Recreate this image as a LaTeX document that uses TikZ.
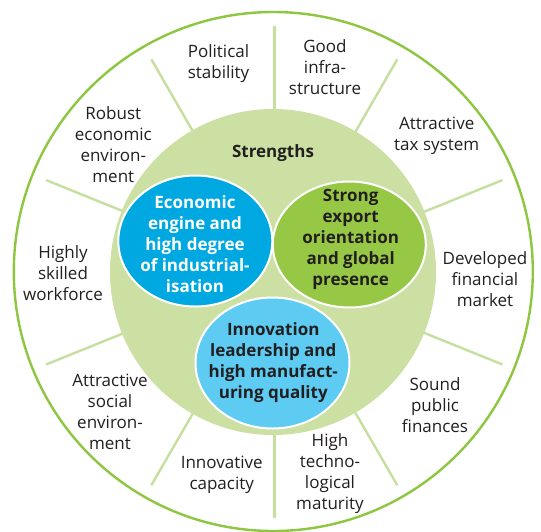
\documentclass[tikz,border=0pt]{standalone}
\usepackage{fontspec}
\setmainfont{Open Sans}
\usetikzlibrary{shapes.geometric}
\definecolor{ringgreen}{HTML}{8DC63F}
\definecolor{spokegreen}{HTML}{C6DF9F}
\definecolor{discgreen}{HTML}{CCE0A4}
\definecolor{engineblue}{HTML}{00A8E1}
\definecolor{exportgreen}{HTML}{96C846}
\definecolor{innovblue}{HTML}{5DCBF2}
\definecolor{inkdark}{HTML}{231F20}
\begin{document}
\begin{tikzpicture}[x=1pt,y=-1pt,
  factor/.style={font=\fontsize{17}{21}\selectfont, text=inkdark, align=center, inner sep=0pt},
  coretext/.style={font=\bfseries\fontsize{17}{21}\selectfont, align=center, inner sep=0pt},
  spoke/.style={draw=spokegreen, line width=2.4pt},
  blob/.style={ellipse, draw=white, line width=2pt, inner sep=0pt, outer sep=0pt}
]
\useasboundingbox (0,0) rectangle (541,531);
\fill[white] (0,0) rectangle (541,531);

% outer ring
\node[circle, draw=ringgreen, line width=2.4pt, minimum size=519pt, inner sep=0pt] (ring) at (273.3,271.5) {};

% spokes separating the factors
\coordinate (c) at (274.3,272.3);
\foreach \a in {22,60,90,120,158,202,240,270,300,338}
  \draw[spoke, shift={(c)}] (\a:150) -- (\a:246);

% central disc
\node[circle, fill=discgreen, minimum size=326pt, inner sep=0pt] (disc) at (273,272) {};
\node[coretext, text=inkdark] (strengths) at (273,153.3) {Strengths};

% three core strengths
\node[blob, fill=engineblue, minimum width=154pt, minimum height=131pt] (engine) at (195.3,241) {};
\node[blob, fill=exportgreen, minimum width=153pt, minimum height=126pt] (export) at (349.3,244.5) {};
\node[blob, fill=innovblue, minimum width=154pt, minimum height=131pt] (innov) at (272.5,363) {};

\node[coretext, text=white] (enginetext) at (195,244.3)
  {Economic\\engine and\\high degree\\of industrial-\\isation};
\node[coretext, text=inkdark] (exporttext) at (350.7,239.2)
  {Strong\\export\\orientation\\and global\\presence};
\node[coretext, text=inkdark] (innovtext) at (273.3,362.5)
  {Innovation\\leadership and\\high manufact-\\uring quality};

% surrounding factors
\node[factor] (political) at (218.5,63.5) {Political\\stability};
\node[factor] (infra) at (325,67) {Good\\infra-\\structure};
\node[factor] (tax) at (436.7,135.3) {Attractive\\tax system};
\node[factor] (finance) at (485,278.8) {Developed\\financial\\market};
\node[factor] (public) at (435,404.8) {Sound\\public\\finances};
\node[factor] (techno) at (330,473.3) {High\\techno-\\logical\\maturity};
\node[factor] (capacity) at (221.7,475) {Innovative\\capacity};
\node[factor] (social) at (110,411.7) {Attractive\\social\\environ-\\ment};
\node[factor] (workforce) at (63,272.8) {Highly\\skilled\\workforce};
\node[factor] (robust) at (113.3,145) {Robust\\economic\\environ-\\ment};
\end{tikzpicture}
\end{document}
